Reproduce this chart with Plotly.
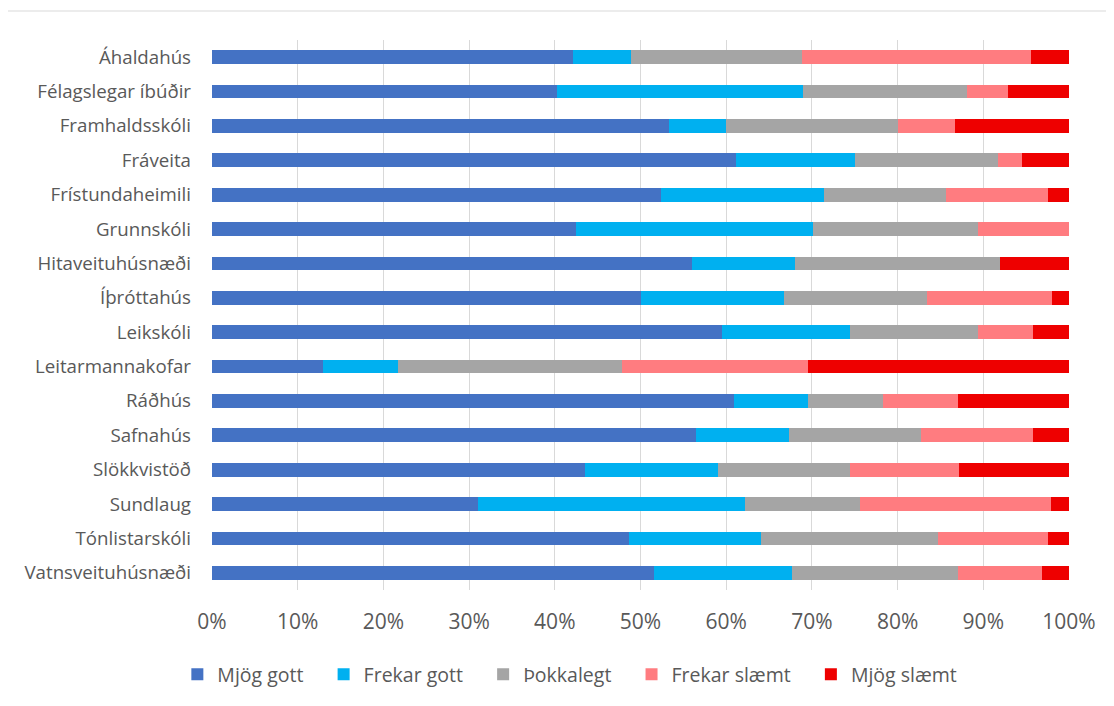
import plotly.graph_objects as go

categories = ["Áhaldahús", "Félagslegar íbúðir", "Framhaldsskóli", "Fráveita",
              "Frístundaheimili", "Grunnskóli", "Hitaveituhúsnæði", "Íþróttahús",
              "Leikskóli", "Leitarmannakofar", "Ráðhús", "Safnahús", "Slökkvistöð",
              "Sundlaug", "Tónlistarskóli", "Vatnsveituhúsnæði"]

mjog_gott    = [42.1, 40.3, 53.3, 61.1, 52.4, 42.5, 56.0, 50.0, 59.5, 13.0, 60.9, 56.5, 43.5, 31.0, 48.7, 51.6]
frekar_gott  = [6.8, 28.7, 6.7, 13.9, 19.0, 27.6, 12.0, 16.7, 15.0, 8.7, 8.7, 10.8, 15.5, 31.2, 15.4, 16.1]
thokkalegt   = [20.0, 19.1, 20.0, 16.7, 14.3, 19.3, 24.0, 16.7, 14.9, 26.1, 8.7, 15.4, 15.4, 13.4, 20.6, 19.4]
frekar_slaemt = [26.7, 4.8, 6.7, 2.8, 11.9, 10.6, 0.0, 14.6, 6.4, 21.7, 8.7, 13.1, 12.8, 22.3, 12.9, 9.7]
mjog_slaemt  = [4.4, 7.1, 13.3, 5.5, 2.4, 0.0, 8.0, 2.0, 4.2, 30.5, 13.0, 4.2, 12.8, 2.1, 2.4, 3.2]

series_names = ["Mjög gott", "Frekar gott", "Þokkalegt", "Frekar slæmt", "Mjög slæmt"]
series_values = [mjog_gott, frekar_gott, thokkalegt, frekar_slaemt, mjog_slaemt]
series_colors = ["#4472C4", "#00B0F0", "#A5A5A5", "#FF7C80", "#EE0000"]

tick_vals = [0, 10, 20, 30, 40, 50, 60, 70, 80, 90, 100]
tick_text = [f"{v}%" for v in tick_vals]

fig = go.Figure()
for i, (name, vals, color) in enumerate(zip(series_names, series_values, series_colors)):
    pad = "\u00a0\u00a0\u00a0" if i < len(series_names) - 1 else ""
    fig.add_trace(go.Bar(
        y=categories, x=vals, name=name + pad, orientation="h",
        marker=dict(color=color, line=dict(width=0)),
    ))

font_family = "'Open Sans', sans-serif"
fig.update_layout(
    barmode="stack",
    barnorm="percent",
    bargap=0.6,
    width=1106, height=698,
    margin=dict(l=204, r=45, t=32, b=116),
    paper_bgcolor="white", plot_bgcolor="white",
    font=dict(family=font_family, color="#595959"),
    showlegend=True,
    legend=dict(orientation="h", x=0.508, xanchor="center", xref="container",
                y=0.045, yanchor="middle", yref="container",
                font=dict(size=19.5, color="#595959"), traceorder="normal",
                itemwidth=30),
    xaxis=dict(range=[0, 100], tickvals=tick_vals, ticktext=tick_text,
               showgrid=True, gridcolor="#D9D9D9", gridwidth=1, zeroline=False,
               showline=False, tickfont=dict(size=21, color="#595959"),
               ticklabelstandoff=17, fixedrange=True),
    yaxis=dict(autorange="reversed", showgrid=False, zeroline=False, showline=False,
               tickfont=dict(size=18.7, color="#595959"), ticklabelstandoff=20,
               ticks=""),
    shapes=[dict(type="rect", xref="paper", yref="paper",
                 x0=-0.239, x1=1.06, y0=-0.25, y1=1.0527,
                 line=dict(color="#D9D9D9", width=1), fillcolor="rgba(0,0,0,0)")],
)

fig.write_html("out.html")
